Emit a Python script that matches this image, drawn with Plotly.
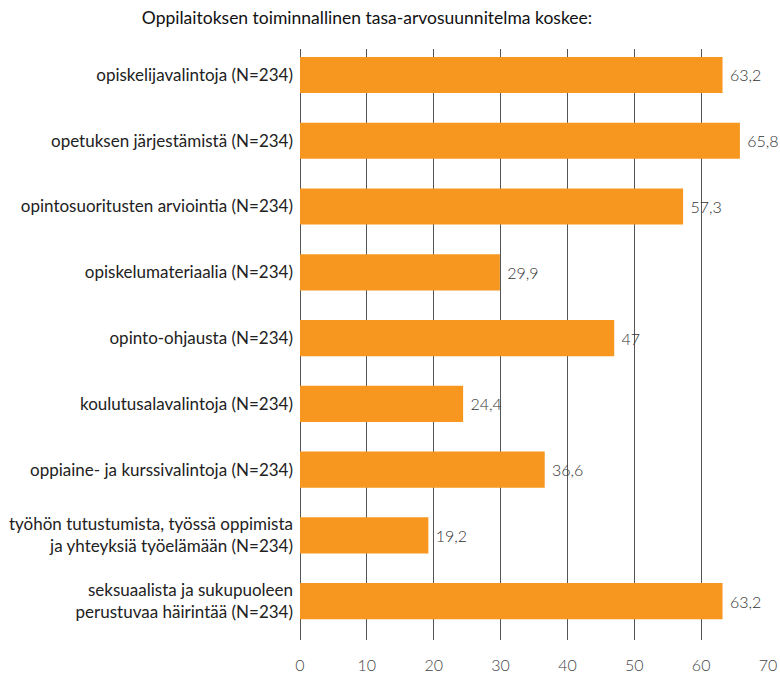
import plotly.graph_objects as go

categories = [
    "opiskelijavalintoja (N=234)",
    "opetuksen järjestämistä (N=234)",
    "opintosuoritusten arviointia (N=234)",
    "opiskelumateriaalia (N=234)",
    "opinto-ohjausta (N=234)",
    "koulutusalavalintoja (N=234)",
    "oppiaine- ja kurssivalintoja (N=234)",
    "työhön tutustumista, työssä oppimista<br>ja yhteyksiä työelämään (N=234)",
    "seksuaalista ja sukupuoleen<br>perustuvaa häirintää (N=234)",
]
values = [63.2, 65.8, 57.3, 29.9, 47, 24.4, 36.6, 19.2, 63.2]
x_ticks = [0, 10, 20, 30, 40, 50, 60, 70]
title = "Oppilaitoksen toiminnallinen tasa-arvosuunnitelma koskee:"

FONT = "Lato, 'Open Sans', sans-serif"

W, H = 780, 674

fig = go.Figure(
    go.Bar(
        y=categories,
        x=values,
        orientation="h",
        marker=dict(color="#F7971F", line=dict(width=0)),
        texttemplate=" %{x}",
        textposition="outside",
        textfont=dict(family=FONT, size=16, color="#333", weight=300),
        cliponaxis=False,
        width=0.55,
    )
)

fig.update_layout(
    width=W,
    height=H,
    margin=dict(l=300, r=12, t=49, b=34, autoexpand=False),
    paper_bgcolor="white",
    plot_bgcolor="white",
    separators=", ",
    showlegend=False,
    font=dict(family=FONT, size=16, color="#222"),
    title=dict(
        text=title,
        x=367 / W, xanchor="center",
        y=1 - 18 / H, yanchor="middle",
        font=dict(family=FONT, size=17.5, color="#111"),
    ),
)

fig.update_xaxes(
    range=[0, 70],
    tickvals=x_ticks,
    showgrid=True,
    gridcolor="#555",
    gridwidth=1,
    zeroline=True,
    zerolinecolor="#555",
    zerolinewidth=1,
    showline=False,
    ticks="",
    automargin=False,
    ticklabelstandoff=14,
    tickfont=dict(family=FONT, size=16, color="#444", weight=300),
    fixedrange=True,
)
fig.update_yaxes(
    categoryorder="array",
    categoryarray=categories,
    range=[8.59, -0.395],
    showgrid=False,
    zeroline=False,
    ticks="",
    automargin=False,
    ticklabelstandoff=6,
    tickfont=dict(family=FONT, size=17, color="#222"),
    fixedrange=True,
)

fig.write_html(
    "out.html",
    config={"displayModeBar": False},
    post_script="document.body.style.margin='0';document.body.style.overflow='hidden';",
)
